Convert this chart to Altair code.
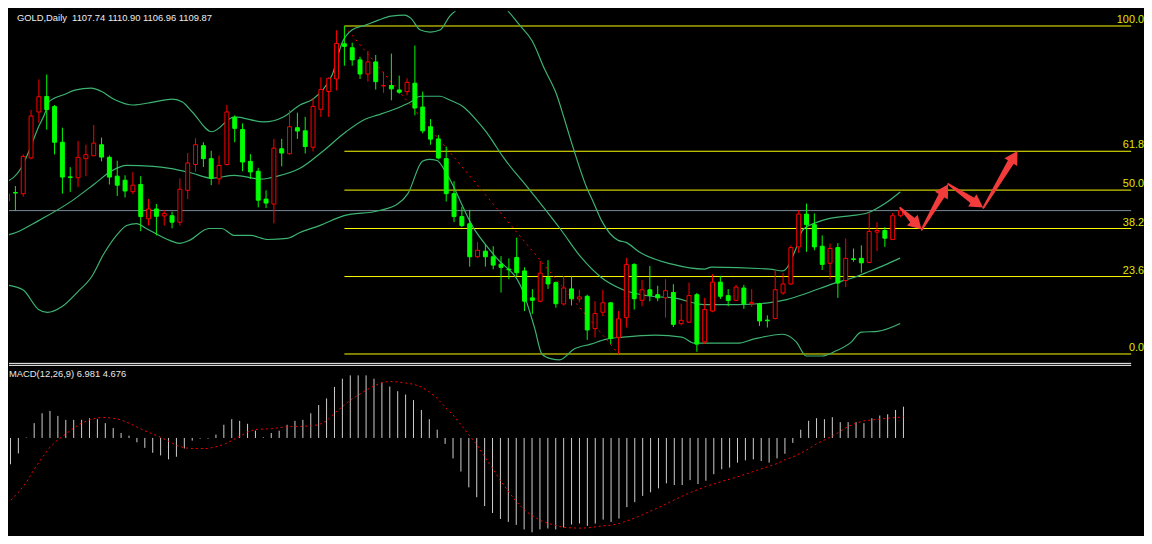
import math
import altair as alt
import pandas as pd

# ---------------- data ----------------
opens = [1114.2, 1117.9, 1117.4, 1133.3, 1153.8, 1160.7, 1156.2, 1140.3, 1124.9, 1124.5,
         1133.0, 1134.3, 1139.2, 1133.6, 1125.2, 1123.4, 1118.3, 1121.5, 1106.2, 1110.6,
         1107.5, 1107.6, 1104.7, 1118.9, 1130.4, 1138.8, 1133.0, 1124.0, 1130.4, 1151.3,
         1146.0, 1131.8, 1127.4, 1115.0, 1112.8, 1137.4, 1135.2, 1146.8, 1145.4, 1138.1,
         1155.0, 1162.9, 1168.5, 1184.2, 1182.4, 1177.0, 1170.7, 1176.1, 1165.4, 1165.6,
         1163.6, 1162.9, 1166.6, 1156.0, 1147.2, 1141.8, 1133.0, 1117.4, 1107.2, 1104.0,
         1089.3, 1091.8, 1089.3, 1086.0, 1083.8, 1089.0, 1083.0, 1071.0, 1069.5, 1080.0,
         1077.8, 1068.3, 1075.0, 1070.5, 1071.7, 1057.3, 1064.6, 1068.8, 1053.4, 1062.2,
         1085.9, 1069.9, 1074.6, 1072.4, 1071.0, 1073.4, 1059.5, 1060.2, 1072.4, 1051.4,
         1065.1, 1078.0, 1072.0, 1069.9, 1075.4, 1068.4, 1068.4, 1061.1, 1061.8, 1073.2,
         1077.2, 1093.7, 1108.3, 1103.6, 1094.0, 1086.4, 1093.4, 1078.7, 1088.4, 1088.6,
         1086.8, 1100.3, 1101.0, 1097.0, 1107.74]
highs = [1120.8, 1120.8, 1134.9, 1154.7, 1168.3, 1170.5, 1156.9, 1146.8, 1129.2, 1140.9,
         1139.2, 1148.0, 1142.4, 1134.4, 1132.1, 1125.6, 1127.0, 1125.2, 1115.0, 1112.8,
         1110.1, 1109.4, 1124.2, 1135.5, 1142.1, 1140.3, 1136.5, 1134.4, 1157.0, 1152.3,
         1148.7, 1135.0, 1128.9, 1118.9, 1141.8, 1141.8, 1154.6, 1153.5, 1151.6, 1160.0,
         1169.2, 1169.2, 1190.2, 1192.1, 1184.6, 1178.4, 1181.0, 1179.2, 1171.7, 1179.8,
         1170.0, 1168.8, 1183.4, 1162.9, 1150.6, 1143.5, 1138.4, 1123.0, 1111.6, 1110.2,
         1095.9, 1094.8, 1094.0, 1089.6, 1088.6, 1097.8, 1084.6, 1074.9, 1087.5, 1087.8,
         1078.3, 1080.8, 1080.8, 1074.6, 1072.4, 1069.5, 1074.6, 1069.0, 1065.1, 1088.8,
         1086.4, 1079.0, 1085.2, 1076.4, 1079.3, 1077.1, 1068.4, 1077.8, 1073.2, 1071.0,
         1081.6, 1080.8, 1074.9, 1076.8, 1076.8, 1074.9, 1068.8, 1063.2, 1083.4, 1082.0,
         1094.4, 1110.1, 1113.0, 1108.6, 1098.8, 1095.2, 1095.4, 1097.4, 1093.0, 1094.4,
         1109.1, 1104.7, 1102.5, 1108.8, 1110.90]
lows = [1112.9, 1109.8, 1116.1, 1132.7, 1149.0, 1145.9, 1134.9, 1117.4, 1118.2, 1120.4,
        1125.2, 1134.2, 1131.8, 1121.5, 1116.4, 1115.7, 1117.2, 1100.7, 1103.2, 1098.8,
        1103.2, 1102.0, 1103.2, 1115.0, 1127.1, 1129.3, 1121.2, 1121.5, 1130.0, 1140.3,
        1127.4, 1124.0, 1111.3, 1111.0, 1104.2, 1129.6, 1134.8, 1141.8, 1135.3, 1136.2,
        1151.6, 1151.6, 1163.4, 1174.4, 1174.4, 1168.5, 1167.3, 1163.8, 1162.3, 1159.0,
        1161.9, 1161.2, 1152.3, 1144.3, 1139.2, 1132.7, 1113.9, 1104.7, 1102.5, 1084.9,
        1088.8, 1084.9, 1083.7, 1073.4, 1079.3, 1080.8, 1065.1, 1063.9, 1069.0, 1075.0,
        1066.6, 1067.6, 1067.6, 1069.0, 1052.3, 1053.4, 1062.9, 1050.4, 1046.0, 1057.8,
        1065.8, 1067.3, 1069.5, 1069.5, 1062.2, 1058.0, 1058.8, 1059.8, 1047.0, 1050.4,
        1064.6, 1070.5, 1067.3, 1069.5, 1066.1, 1067.0, 1058.5, 1057.8, 1061.4, 1072.4,
        1076.8, 1091.0, 1091.5, 1092.2, 1083.4, 1079.3, 1071.0, 1075.8, 1087.1, 1082.2,
        1086.4, 1091.9, 1093.7, 1096.9, 1106.96]
closes = [1117.3, 1117.7, 1134.0, 1152.0, 1160.6, 1154.9, 1140.3, 1124.8, 1124.6, 1133.6,
          1134.8, 1139.9, 1133.7, 1124.8, 1121.2, 1118.6, 1121.2, 1107.2, 1110.6, 1107.3,
          1108.6, 1104.7, 1119.4, 1131.1, 1139.2, 1133.0, 1124.2, 1130.0, 1153.8, 1146.5,
          1131.5, 1127.1, 1114.5, 1113.2, 1137.7, 1135.5, 1147.2, 1145.3, 1138.4, 1156.3,
          1163.8, 1168.8, 1184.3, 1183.0, 1177.0, 1170.7, 1176.1, 1167.3, 1165.6, 1164.1,
          1162.6, 1167.0, 1155.6, 1145.4, 1141.7, 1133.3, 1117.4, 1107.2, 1103.2, 1089.3,
          1092.2, 1089.3, 1085.6, 1084.6, 1083.5, 1082.2, 1069.5, 1069.9, 1082.0, 1077.2,
          1068.4, 1075.4, 1070.6, 1071.4, 1056.7, 1064.0, 1068.8, 1052.9, 1061.7, 1085.9,
          1070.6, 1074.6, 1072.1, 1071.0, 1074.2, 1059.2, 1061.0, 1072.0, 1050.4, 1065.8,
          1078.0, 1071.7, 1069.8, 1075.8, 1068.4, 1069.0, 1060.7, 1060.8, 1074.6, 1077.2,
          1093.4, 1108.3, 1103.6, 1093.7, 1085.9, 1093.0, 1077.6, 1088.6, 1088.1, 1086.6,
          1100.6, 1101.0, 1097.6, 1107.6, 1109.87]

macd_hist = [-7.35, -5.88, -3.45, 0.10, 3.31, 5.51, 6.03, 4.92, 4.04, 4.04,
             4.04, 4.41, 4.19, 3.31, 2.21, 1.10, 0.51, -0.96, -2.21, -3.31,
             -3.90, -4.78, -4.19, -2.35, -0.59, -0.15, -0.15, 0.74, 2.94, 4.19,
             3.82, 3.16, 1.62, 0.15, 1.10, 1.62, 2.94, 3.82, 4.04, 5.51,
             7.35, 8.82, 11.39, 13.23, 13.97, 13.97, 13.97, 13.23, 12.35, 11.47,
             10.44, 9.70, 8.45, 6.25, 4.19, 1.84, -1.32, -4.56, -7.50, -11.03,
             -13.23, -15.21, -16.76, -18.08, -18.74, -19.40, -20.43, -21.09, -20.43, -20.21,
             -20.43, -19.99, -19.33, -19.11, -19.62, -19.11, -18.23, -18.74, -18.01, -15.44,
             -14.33, -12.94, -12.13, -11.25, -10.14, -10.51, -10.51, -9.41, -10.29, -9.56,
             -8.09, -6.98, -6.62, -5.51, -5.00, -4.78, -5.15, -5.51, -4.56, -3.53,
             -1.10, 1.84, 3.82, 4.41, 4.19, 4.63, 3.53, 3.53, 3.53, 3.31,
             4.41, 5.00, 5.29, 6.25, 6.981]
macd_signal = [-15.07, -13.97, -12.13, -9.92, -6.98, -4.41, -2.06, -0.37, 0.88, 2.21,
               3.31, 4.04, 4.48, 4.56, 4.41, 4.04, 3.31, 2.43, 1.62, 0.88,
               0.15, -0.74, -1.62, -2.21, -2.35, -2.35, -2.35, -1.98, -1.47, -0.59,
               0.37, 1.32, 1.91, 1.98, 2.06, 2.28, 2.50, 2.57, 2.57, 2.72,
               2.94, 3.82, 5.51, 6.98, 8.45, 9.56, 10.66, 11.61, 12.35, 12.64,
               12.50, 12.27, 11.98, 11.39, 10.29, 8.82, 6.91, 5.15, 2.94, 0.74,
               -1.47, -4.19, -6.76, -9.56, -11.91, -14.19, -16.02, -17.35, -18.38, -19.04,
               -19.55, -19.99, -20.07, -20.14, -20.07, -19.85, -19.62, -19.48, -19.11, -18.52,
               -17.86, -17.13, -16.32, -15.58, -14.70, -13.82, -13.01, -12.20, -11.54, -10.80,
               -10.29, -9.70, -9.19, -8.67, -8.09, -7.50, -6.91, -6.32, -5.73, -4.85,
               -4.26, -3.38, -2.43, -1.32, -0.44, 0.44, 1.47, 2.57, 3.31, 3.82,
               4.04, 4.19, 4.41, 4.56, 4.676]

# Bollinger band knots (bar index, price)
upper_idx = [-0.17, 1.71, 2.71, 3.96, 4.83, 5.21, 7.33, 8.58, 10.71, 11.96, 13.58, 16.08,
             18.58, 21.08, 22.33, 23.58, 26.08, 28.96, 32.71, 35.21, 37.33, 38.96, 40.21,
             41.46, 42.71, 43.96, 45.71, 47.33, 48.96, 50.71, 51.46, 52.71, 53.96, 55.21,
             56.46, 57.58, 59.21, 61.08, 62.33, 63.58, 65.46, 66.96, 68.58, 70.08, 71.08,
             71.96, 73.96, 74.83, 75.83, 77.96, 78.96, 80.71, 84.83, 88.96, 89.83, 97.33,
             98.96, 100.71, 101.46, 103.21, 104.83, 107.71, 109.83, 111.96, 113.96]
upper_val = [1122.6, 1128.7, 1136.2, 1147.2, 1153.8, 1158.2, 1161.7, 1163.5, 1164.4, 1163.0,
             1159.5, 1156.9, 1158.2, 1159.5, 1158.2, 1153.8, 1145.0, 1151.6, 1149.4, 1151.6,
             1156.9, 1159.5, 1163.5, 1170.5, 1184.6, 1190.3, 1192.5, 1194.7, 1196.5, 1196.9,
             1195.6, 1190.3, 1189.4, 1190.3, 1196.5, 1200.0, 1205.7, 1207.5, 1204.4, 1200.0,
             1192.1, 1185.5, 1172.7, 1161.7, 1150.7, 1140.6, 1119.9, 1113.3, 1105.4, 1096.6,
             1095.7, 1091.3, 1086.0, 1083.8, 1084.7, 1083.8, 1083.0, 1093.5, 1101.0, 1104.5,
             1106.3, 1107.6, 1108.9, 1112.9, 1118.2]
middle_idx = [-0.17, 1.08, 3.96, 8.21, 11.08, 13.21, 15.21, 18.58, 20.71, 23.58, 26.08,
              28.96, 32.33, 34.46, 37.33, 40.21, 43.21, 45.71, 47.33, 49.46, 51.46, 52.71,
              55.21, 56.46, 58.21, 59.83, 61.08, 61.96, 63.21, 66.46, 70.71, 73.21, 75.71,
              78.58, 82.71, 84.83, 88.96, 93.21, 97.33, 99.46, 101.46, 105.71, 108.21,
              109.83, 111.96, 113.96]
middle_val = [1098.8, 1100.1, 1105.4, 1114.2, 1121.7, 1127.4, 1130.0, 1129.6, 1128.7, 1126.5,
              1124.3, 1125.6, 1123.9, 1125.2, 1128.7, 1136.2, 1145.0, 1150.7, 1152.5, 1155.1,
              1158.2, 1160.8, 1160.8, 1159.1, 1156.0, 1150.3, 1145.0, 1140.6, 1134.0, 1119.9,
              1101.0, 1089.1, 1080.3, 1074.6, 1071.5, 1071.1, 1068.0, 1068.0, 1068.9, 1070.2,
              1072.4, 1077.7, 1080.3, 1082.5, 1085.6, 1088.7]
lower_idx = [-0.17, 1.96, 3.96, 5.08, 6.96, 8.96, 10.71, 12.33, 14.21, 15.21, 16.46, 17.71,
             20.71, 21.96, 23.21, 25.71, 27.33, 28.96, 31.08, 33.21, 35.71, 37.33, 39.83,
             42.96, 47.33, 49.83, 51.08, 52.96, 53.83, 54.83, 56.08, 59.46, 62.33, 65.71,
             67.33, 68.21, 69.46, 70.46, 72.33, 74.46, 76.46, 78.58, 82.71, 86.08, 87.71,
             93.21, 95.21, 98.96, 100.71, 101.96, 103.96, 105.71, 107.71, 108.96, 111.08,
             113.96]
lower_val = [1076.8, 1074.6, 1065.8, 1064.5, 1067.1, 1073.7, 1080.3, 1090.9, 1100.1, 1103.2,
             1104.1, 1101.9, 1096.6, 1095.3, 1096.6, 1101.9, 1101.9, 1098.8, 1098.8, 1097.0,
             1097.5, 1100.1, 1103.2, 1107.6, 1109.8, 1112.9, 1117.3, 1131.8, 1132.7, 1132.2,
             1126.1, 1102.3, 1089.1, 1074.6, 1057.0, 1046.0, 1043.8, 1043.4, 1048.2, 1050.4,
             1052.6, 1053.5, 1054.4, 1053.5, 1050.8, 1050.8, 1052.6, 1054.8, 1051.3, 1045.1,
             1045.1, 1047.3, 1051.3, 1055.7, 1056.1, 1059.6]

fib_labels = ["100.0", "61.8", "50.0", "38.2", "23.6", "0.0"]
fib_prices = [1192.1, 1136.3, 1119.0, 1101.9, 1080.5, 1046.0]
fib_start = 43
trend_idx = [43, 78]
trend_price = [1192.1, 1046.0]
bid_price = 1109.87
arrow_idx = [113.96, 116.71, 120.08, 124.58, 128.96]
arrow_price = [1111.1, 1101.4, 1121.7, 1111.1, 1136.6]

title_text = "GOLD,Daily\u00a0\u00a01107.74 1110.90 1106.96 1109.87"
macd_text = "MACD(12,26,9) 6.981 4.676"

# ---------------- layout / scales ----------------
W = 1136
H_TOP = 355
H_BOT = 173
X_DOM = [0.8125, 142.8125]
Y_TOP = [1042.48, 1198.68]
Y_BOT = [-21.17, 16.98]
PX_X = W / (X_DOM[1] - X_DOM[0])
PX_Y = H_TOP / (Y_TOP[1] - Y_TOP[0])

xs = alt.Scale(domain=X_DOM, nice=False, zero=False)
ys = alt.Scale(domain=Y_TOP, nice=False, zero=False)
ysb = alt.Scale(domain=Y_BOT, nice=False, zero=False)

FONT = "Liberation Sans"
RED = "#FF0000"
LIME = "#00FF00"
BAND = "#3CB371"
YELLOW = "#FFFF00"
ARROW = "#F23C3C"

n = len(closes)
cdf = pd.DataFrame({
    "idx": list(range(n)), "open": opens, "high": highs, "low": lows, "close": closes,
})
cdf["dir"] = ["up" if c >= o else "down" for o, c in zip(opens, closes)]

def X(field="idx:Q"):
    return alt.X(field, scale=xs, axis=None)

def Y(field):
    return alt.Y(field, scale=ys, axis=None)

# Bollinger bands
band_rows = []
for name, ix, vals in (("upper", upper_idx, upper_val), ("middle", middle_idx, middle_val),
                       ("lower", lower_idx, lower_val)):
    for a, b in zip(ix, vals):
        band_rows.append({"band": name, "idx": a, "val": b})
bdf = pd.DataFrame(band_rows)

bands = alt.Chart(bdf).mark_line(color=BAND, strokeWidth=1.2, interpolate="monotone", clip=True).encode(
    x=X(), y=Y("val:Q"), detail="band:N")

fdf = pd.DataFrame({"label": fib_labels, "price": fib_prices,
                    "x0": [fib_start] * len(fib_prices), "x1": [X_DOM[1] + 2] * len(fib_prices)})
fib_lines = alt.Chart(fdf).mark_rule(color=YELLOW, strokeWidth=1, clip=True).encode(
    x=X("x0:Q"), x2="x1:Q", y=Y("price:Q"))
fib_text = alt.Chart(fdf).mark_text(align="right", baseline="bottom", dy=-1, fontSize=11,
                                    font=FONT, color="#E0E600").encode(
    x=alt.value(1149), y=Y("price:Q"), text="label:N")

bid = alt.Chart(pd.DataFrame({"price": [bid_price]})).mark_rule(
    color="#7A8A9A", strokeWidth=1).encode(y=Y("price:Q"))

tdf = pd.DataFrame({"idx": trend_idx, "price": trend_price})
trend = alt.Chart(tdf).mark_line(color=RED, strokeWidth=1, strokeDash=[2, 4], clip=True).encode(
    x=X(), y=Y("price:Q"))

wicks = alt.Chart(cdf).mark_rule(strokeWidth=1, clip=True).encode(
    x=X(), y=Y("low:Q"), y2="high:Q",
    color=alt.Color("dir:N", scale=alt.Scale(domain=["up", "down"], range=[RED, LIME]), legend=None))

bull = alt.Chart(cdf).transform_filter("datum.dir == 'up'").mark_bar(
    size=4, fill="black", stroke=RED, strokeWidth=1, clip=True).encode(
    x=X(), y=Y("open:Q"), y2="close:Q")
bear = alt.Chart(cdf).transform_filter("datum.dir == 'down'").mark_bar(
    size=4, fill=LIME, stroke=LIME, strokeWidth=1, clip=True).encode(
    x=X(), y=Y("open:Q"), y2="close:Q")

# hand-drawn red arrows
trail_rows, head_rows = [], []
for k in range(len(arrow_idx) - 1):
    x1, p1, x2, p2 = arrow_idx[k], arrow_price[k], arrow_idx[k + 1], arrow_price[k + 1]
    dx = (x2 - x1) * PX_X
    dy = (p2 - p1) * PX_Y
    L = math.hypot(dx, dy)
    ux, uy = dx / L, dy / L
    se = max(L - 11, L * 0.5)
    trail_rows.append({"arrow": k, "step": 0, "idx": x1, "price": p1, "w": 2})
    trail_rows.append({"arrow": k, "step": 1, "idx": x1 + se * ux / PX_X,
                       "price": p1 + se * uy / PX_Y, "w": 7})
    hc = L - 7
    head_rows.append({"idx": x1 + hc * ux / PX_X, "price": p1 + hc * uy / PX_Y,
                      "ang": math.degrees(math.atan2(ux, uy)) % 360})
trails = alt.Chart(pd.DataFrame(trail_rows)).mark_trail(color=ARROW, clip=True).encode(
    x=X(), y=Y("price:Q"), size=alt.Size("w:Q", scale=None, legend=None),
    detail="arrow:N", order="step:Q")
heads = alt.Chart(pd.DataFrame(head_rows)).mark_point(
    shape="triangle-up", filled=True, color=ARROW, opacity=1, size=230, clip=True).encode(
    x=X(), y=Y("price:Q"), angle=alt.Angle("ang:Q", scale=None))

title = alt.Chart(pd.DataFrame({"t": [title_text]})).mark_text(
    align="left", baseline="middle", fontSize=9.5, font=FONT, color="#EEEEEE").encode(
    x=alt.value(8), y=alt.value(6.5), text="t:N")

top = alt.layer(fib_lines, bid, bands, trend, wicks, bull, bear, trails, heads,
                fib_text, title).properties(width=W, height=H_TOP)

# MACD panel
mdf = pd.DataFrame({"idx": list(range(n)), "hist": macd_hist, "signal": macd_signal,
                    "zero": [0.0] * n})
hist = alt.Chart(mdf).mark_rule(color="#D0D0D0", strokeWidth=1, clip=True).encode(
    x=X(), y=alt.Y("hist:Q", scale=ysb, axis=None), y2="zero:Q")
sig = alt.Chart(mdf).mark_line(color=RED, strokeWidth=1, strokeDash=[2, 3], clip=True).encode(
    x=X(), y=alt.Y("signal:Q", scale=ysb, axis=None))
sep_df = pd.DataFrame({"k": [0]})
sep1 = alt.Chart(sep_df).mark_rule(color="#FFFFFF", strokeWidth=1).encode(
    x=alt.value(0), x2=alt.value(W), y=alt.value(1.5))
sep2 = alt.Chart(sep_df).mark_rule(color="#FFFFFF", strokeWidth=1).encode(
    x=alt.value(0), x2=alt.value(W), y=alt.value(3.5))
mtext = alt.Chart(pd.DataFrame({"t": [macd_text]})).mark_text(
    align="left", baseline="middle", fontSize=9.5, font=FONT, color="#E8E8E8").encode(
    x=alt.value(0), y=alt.value(12.5), text="t:N")

bottom = alt.layer(hist, sig, sep1, sep2, mtext).properties(width=W, height=H_BOT)

chart = alt.vconcat(top, bottom, spacing=0).properties(
    padding=0, background="black"
).configure_view(stroke=None, fill="black", strokeWidth=0)

chart.save("out.html", embed_options={"renderer": "svg", "actions": False})
